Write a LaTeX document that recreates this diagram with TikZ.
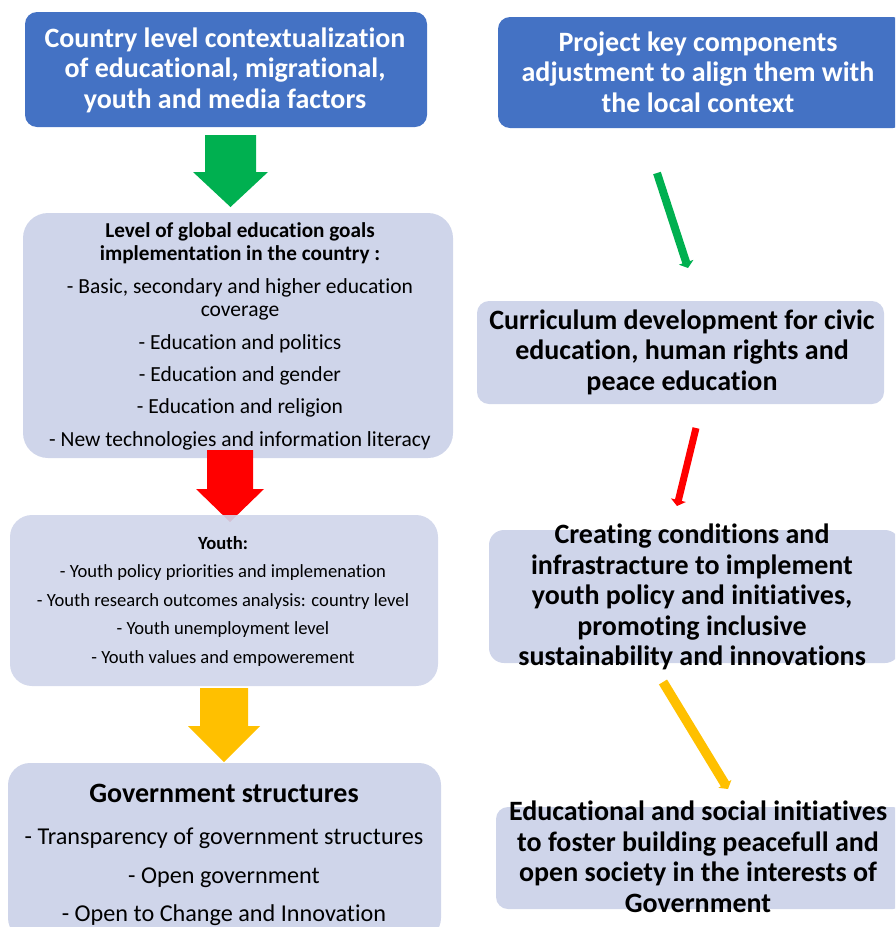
\documentclass[tikz,border=0pt]{standalone}
\usepackage{fontspec}
\setmainfont{Carlito}[RawFeature={-liga;-clig;-calt}]
\usetikzlibrary{arrows.meta}

\definecolor{boxblue}{HTML}{4472C4}
\definecolor{boxlight}{HTML}{CFD5EA}
\definecolor{arrgreen}{HTML}{00B050}
\definecolor{arrred}{HTML}{FF0000}
\definecolor{arryellow}{HTML}{FFC000}

\newcommand\goalhead{\fontsize{21.2}{23}\selectfont\bfseries}
\newcommand\govhead{\fontsize{28}{30}\selectfont\bfseries}

\begin{document}
\begin{tikzpicture}[x=1pt, y=-1pt, >={Triangle[length=6pt,width=15pt]},
  darkbox/.style={fill=boxblue, rounded corners=12pt, inner sep=0pt},
  lightbox/.style={fill=boxlight, rounded corners=#1, inner sep=0pt},
  lightbox/.default=12pt,
  headtext/.style={font=\fontsize{28}{30.5}\selectfont\bfseries, align=center, inner sep=0pt},
  listtext/.style={align=center, inner sep=0pt}]
  \clip (0,0) rectangle (895,927);

  % left column
  \node (ctx) at (226,69.5) [darkbox, minimum width=402, minimum height=115] {};
  \node (ctx-t) at (225,70) [headtext, text=white] {Country level contextualization\\ of educational, migrational,\\ youth and media factors};

  \fill [arrgreen] (205,135) -- (256,135) -- (256,172) -- (268,172) -- (230.5,207) -- (193,172) -- (205,172) -- cycle;

  \node (goals) at (238,335.5) [lightbox=25pt, minimum width=430, minimum height=245] {};
  \node (goals-t) at (240,336) [listtext, font=\fontsize{21.5}{23}\selectfont]
    {{\goalhead Level of global education goals}\\
     {\goalhead implementation in the country :}\\[10pt]
     - Basic, secondary and higher education\\
     coverage\\[10pt]
     - Education and politics\\[9pt]
     - Education and gender\\[9pt]
     - Education and religion\\[10pt]
     - New technologies and information literacy};

  \fill [arrred] (207,450) -- (253,450) -- (253,489) -- (264,489) -- (230,522) -- (196,489) -- (207,489) -- cycle;

  \node (youth) at (224,600.5) [lightbox=22pt, minimum width=428, minimum height=171, fill opacity=0.9] {};
  \node (youth-t) at (223,601) [listtext, font=\fontsize{18.6}{28.5}\selectfont]
    {{\bfseries Youth:}\\
     - Youth policy priorities and implemenation\\
     - Youth research outcomes analysis: country level\\
     - Youth unemployment level\\
     - Youth values and empowerement};

  \fill [arryellow] (200,688) -- (248,688) -- (248,726) -- (260,726) -- (224,762) -- (188,726) -- (200,726) -- cycle;

  \node (gov) at (224.5,851.5) [lightbox=22pt, minimum width=433, minimum height=177] {};
  \node (gov-t) at (224,855) [listtext, font=\fontsize{24.2}{38.5}\selectfont]
    {{\govhead Government structures}\\[4pt]
     - Transparency of government structures\\
     - Open government\\
     - Open to Change and Innovation};

  % right column
  \node (proj) at (701.5,72.5) [darkbox, minimum width=407, minimum height=111] {};
  \node (proj-t) at (698,72) [headtext, text=white] {Project key components\\ adjustment to align them with\\ the local context};

  \node (curr) at (680.5,352.5) [lightbox, minimum width=407, minimum height=103] {};
  \node (curr-t) at (682,352) [headtext] {Curriculum development for civic\\ education, human rights and\\ peace education};

  \node (cond) at (694.5,596.5) [lightbox=15pt, minimum width=411, minimum height=133] {};
  \node (cond-t) at (692,597) [headtext] {Creating conditions and\\ infrastracture to implement\\ youth policy and initiatives,\\ promoting inclusive\\ sustainability and innovations};

  \node (init) at (700.5,858) [lightbox, minimum width=409, minimum height=102] {};
  \node (init-t) at (698,857) [headtext] {Educational and social initiatives\\ to foster building peacefull and\\ open society in the interests of\\ Government};

  \coordinate (g1) at (657,173);
  \coordinate (g2) at (688,268);
  \coordinate (r1) at (696,428);
  \coordinate (r2) at (677,506);
  \coordinate (y1) at (663,682);
  \coordinate (y2) at (728,789);
  \draw [->, arrgreen, line width=8pt] (g1) -- (g2);
  \draw [->, arrred, line width=7pt] (r1) -- (r2);
  \draw [->, arryellow, line width=9.5pt] (y1) -- (y2);
\end{tikzpicture}
\end{document}
